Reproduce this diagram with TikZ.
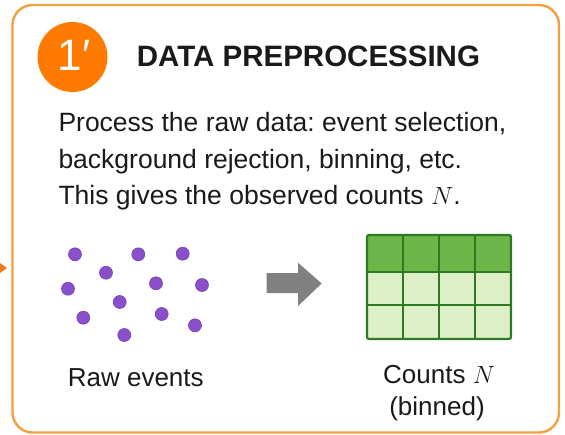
\documentclass[tikz,border=0pt]{standalone}
\usepackage{fontspec}
\setmainfont{Liberation Sans}
\frenchspacing
\definecolor{boxorange}{RGB}{243,160,67}
\definecolor{badge}{RGB}{255,122,0}
\definecolor{tipor}{RGB}{240,122,26}
\definecolor{dotpurple}{RGB}{138,79,203}
\definecolor{dotedge}{RGB}{118,62,180}
\definecolor{gdark}{RGB}{108,181,72}
\definecolor{glight}{RGB}{221,239,198}
\definecolor{gline}{RGB}{45,122,34}
\definecolor{arrgray}{RGB}{128,128,128}
\definecolor{txt}{RGB}{26,26,26}
\begin{document}
\begin{tikzpicture}[x=1pt,y=-1pt,
  panel/.style={draw=boxorange,line width=2.4pt,fill=white,rounded corners=20pt},
  evdot/.style={circle,fill=dotpurple,draw=dotedge,line width=0.6pt,minimum size=13pt,inner sep=0pt},
  bodytext/.style={anchor=base west,inner sep=0pt,text=txt,font=\fontsize{26.5}{31}\selectfont},
  labeltext/.style={anchor=base,inner sep=0pt,text=txt,font=\fontsize{26}{31}\selectfont},
  cellline/.style={draw=gline,line width=2.2pt}]
\useasboundingbox (0,0) rectangle (565,434);
\fill[white] (0,0) rectangle (565,434);
% panel
\draw[panel] (12.5,5) rectangle (559,432.5);
% incoming arrow tip at the left border
\fill[tipor] (0,263) -- (7,268) -- (0,273) -- cycle;
% badge
\node[circle,fill=badge,minimum size=70pt,inner sep=0pt] (badge) at (72.5,57) {};
\node[text=white,inner sep=0pt,font=\fontsize{44}{50}\selectfont] (badgetxt) at (74,55) {1\kern1pt′};
% title
\node[anchor=base west,inner sep=0pt,text=txt,font=\fontsize{29.5}{34}\selectfont\bfseries] (title) at (136.7,66.7) {DATA PREPROCESSING};
% body
\node[bodytext] (l1) at (58.3,131.7) {Process the raw data: event selection,};
\node[bodytext] (l2) at (58.3,168.3) {background rejection, binning, etc.};
\node[bodytext] (l3) at (58.3,204) {This gives the observed counts $N$.};
% raw events
\node[evdot] (d1) at (75,254.3) {};
\node[evdot] (d2) at (138.3,254.3) {};
\node[evdot] (d3) at (182.7,253.7) {};
\node[evdot] (d4) at (106,272.7) {};
\node[evdot] (d5) at (68,288.7) {};
\node[evdot] (d6) at (156,283.3) {};
\node[evdot] (d7) at (202,285) {};
\node[evdot] (d8) at (119.7,302) {};
\node[evdot] (d9) at (83.3,317.7) {};
\node[evdot] (d10) at (161.7,314) {};
\node[evdot] (d11) at (195,325.3) {};
\node[evdot] (d12) at (124.3,335) {};
\node[labeltext] (rawlbl) at (135.8,386.7) {Raw events};
% block arrow
\fill[arrgray] (266.7,273) -- (298,273) -- (298,262.7) -- (321.7,283.5) -- (298,306) -- (298,293) -- (266.7,293) -- cycle;
% counts grid
\fill[glight] (367,272) rectangle (511,339);
\fill[gdark] (367,235) rectangle (511,272);
\draw[cellline] (403,235) -- (403,339) (439,235) -- (439,339) (475,235) -- (475,339)
  (367,272) -- (511,272) (367,305) -- (511,305);
\draw[cellline,rounded corners=2pt] (367,235) rectangle (511,339);
\node[labeltext] (cntlbl) at (439,383.3) {Counts $N$};
\node[labeltext] (binlbl) at (437,415) {(binned)};
\end{tikzpicture}
\end{document}
